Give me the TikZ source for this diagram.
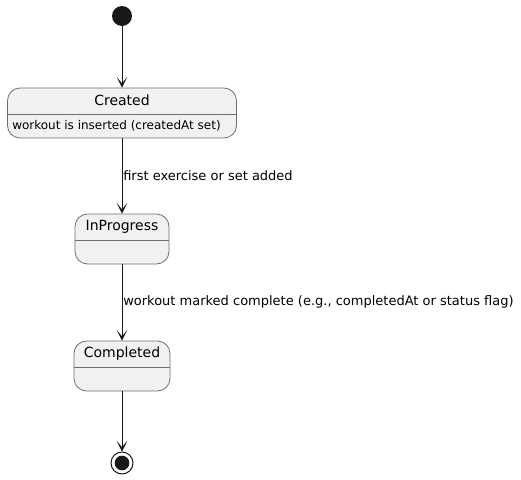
\documentclass[tikz,border=0pt]{standalone}
\usepackage{fontspec}
\setmainfont{DejaVu Sans}
\usetikzlibrary{arrows.meta,calc}
\definecolor{statefill}{HTML}{F1F1F1}
\definecolor{stateborder}{HTML}{6E6E6E}
\definecolor{ink}{HTML}{181818}
\tikzset{
  statebox/.style={draw=stateborder, fill=statefill, line width=0.6pt, rounded corners=9.4pt, minimum height=37.5pt, inner sep=0pt},
  divider/.style={draw=stateborder, line width=0.6pt},
  trans/.style={draw=ink, line width=0.7pt, -{Stealth[length=8pt,width=8pt,inset=4.8pt]}},
  titletext/.style={font=\fontsize{10.5pt}{12pt}\selectfont, text=black, inner sep=0pt},
  bodytext/.style={font=\fontsize{9pt}{10pt}\selectfont, text=black, inner sep=0pt, anchor=west},
  lbl/.style={font=\fontsize{9.75pt}{11pt}\selectfont, text=black, inner sep=0pt, anchor=west}
}
\begin{document}
\begin{tikzpicture}[x=0.75pt,y=-0.75pt]
\useasboundingbox (0,0) rectangle (521,479);
% start
\node[circle, fill=ink, minimum size=15pt, inner sep=0pt] (start) at (122,16) {};
% Created
\node[statebox, minimum width=171.75pt] (created) at (122,113) {};
\draw[divider] ($(created.west)+(0,-0.75pt)$) -- ($(created.east)+(0,-0.75pt)$);
\node[titletext] (createdT) at (122,100.5) {Created};
\node[bodytext] (createdB) at (12,125.5) {workout is inserted (createdAt set)};
% InProgress
\node[statebox, minimum width=70.5pt] (inprog) at (122,239) {};
\draw[divider] ($(inprog.west)+(0,-0.75pt)$) -- ($(inprog.east)+(0,-0.75pt)$);
\node[titletext] (inprogT) at (122,227) {InProgress};
% Completed
\node[statebox, minimum width=72pt] (compl) at (122,366) {};
\draw[divider] ($(compl.west)+(0,-0.75pt)$) -- ($(compl.east)+(0,-0.75pt)$);
\node[titletext] (complT) at (122,354) {Completed};
% end
\node[circle, draw=ink, line width=0.75pt, fill=white, minimum size=16.5pt, inner sep=0pt] (endS) at (122,463) {};
\node[circle, fill=ink, minimum size=11pt, inner sep=0pt] (endI) at (122,463) {};
% transitions
\draw[trans] (start) -- (created);
\draw[trans] (created) -- (inprog);
\draw[trans] (inprog) -- (compl);
\draw[trans] (compl) -- (endS);
\node[lbl] (l1) at (123,176) {first exercise or set added};
\node[lbl] (l2) at (123,302) {workout marked complete (e.g., completedAt or status flag)};
\end{tikzpicture}
\end{document}
